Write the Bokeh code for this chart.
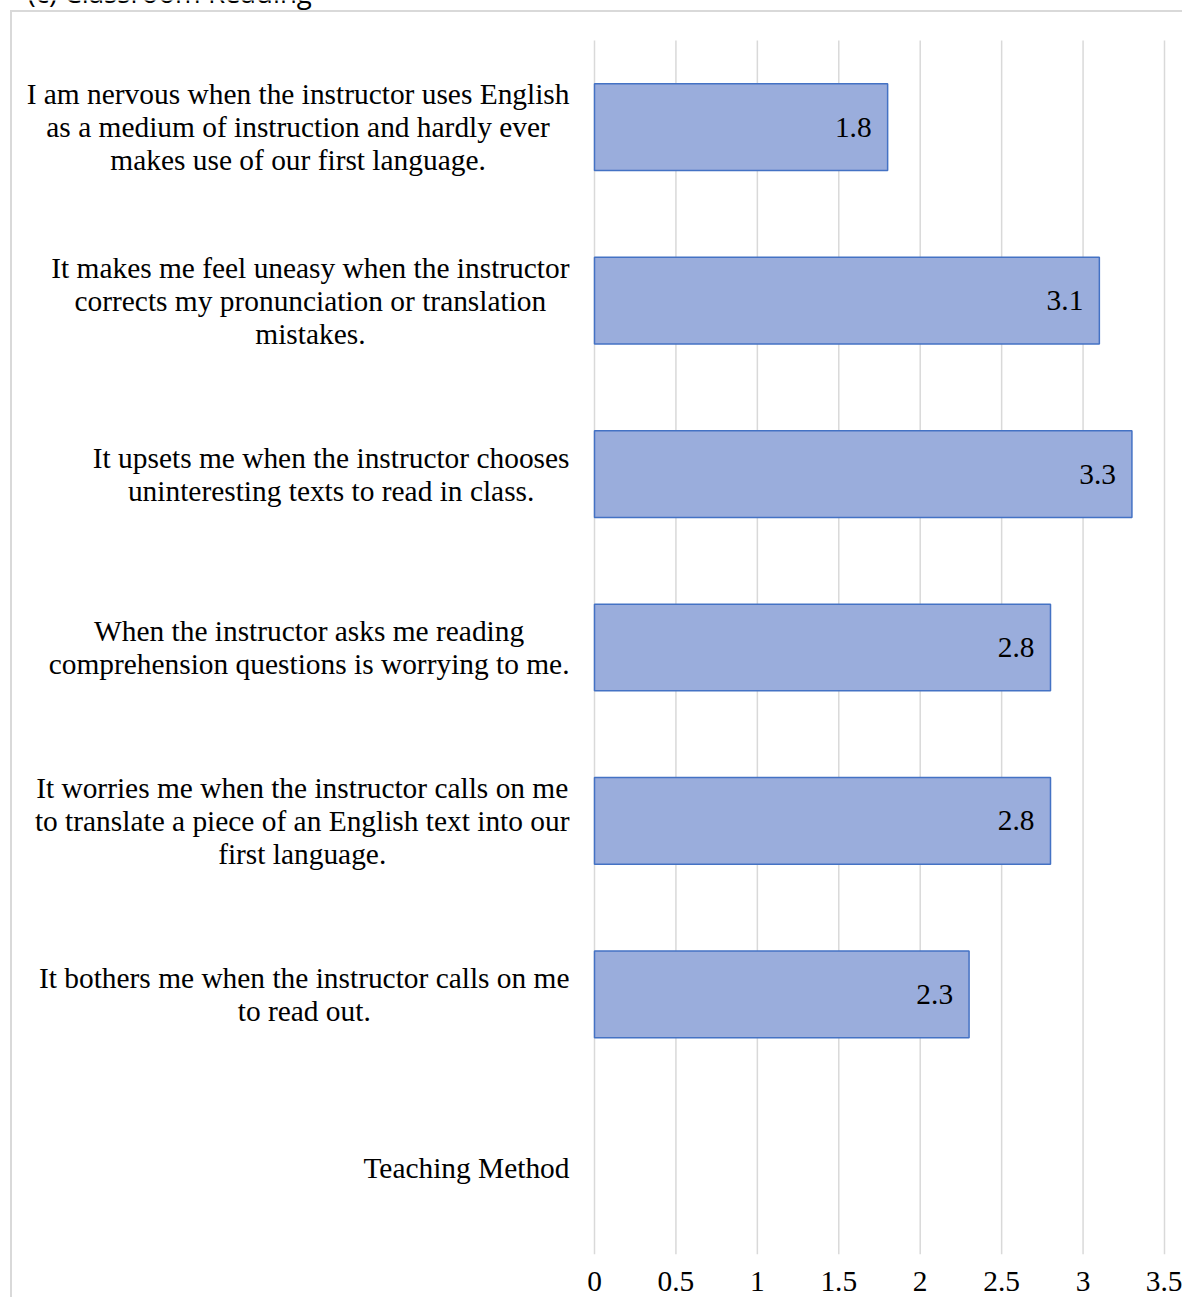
from bokeh.plotting import figure
from bokeh.models import ColumnDataSource, Range1d, FixedTicker
from bokeh.core.properties import value
from bokeh.embed import file_html
from bokeh.resources import INLINE

# ---- data ----
title_text = "(c) Classroom Reading"
categories = [
    "Teaching Method",
    "It bothers me when the instructor calls on me\nto read out.",
    "It worries me when the instructor calls on me\nto translate a piece of an English text into our\nfirst language.",
    "When the instructor asks me reading\ncomprehension questions is worrying to me.",
    "It upsets me when the instructor chooses\nuninteresting texts to read in class.",
    "It makes me feel uneasy when the instructor\ncorrects my pronunciation or translation\nmistakes.",
    "I am nervous when the instructor uses English\nas a medium of instruction and hardly ever\nmakes use of our first language.",
]
values = [None, 2.3, 2.8, 2.8, 3.3, 3.1, 1.8]
tick_values = [0, 0.5, 1, 1.5, 2, 2.5, 3, 3.5]
tick_labels = ["0", "0.5", "1", "1.5", "2", "2.5", "3", "3.5"]

# ---- layout (pixel geometry of the canvas) ----
W, H = 1182, 1297
PXU = 570 / 3.5          # pixels per value unit
X0 = 594                 # pixel column of value 0
BAND = 1214 / 7          # pixels per category band
FRAME_BOTTOM = 1254


def px_x(px):
    return (px - X0) / PXU


def px_y(py):
    return (FRAME_BOTTOM - py) / BAND


FONT = "Liberation Serif"
FS = "29.4px"

ypos = [i + 0.5 for i in range(len(categories))]
bar_y = [y for y, v in zip(ypos, values) if v is not None]
bar_vals = [v for v in values if v is not None]
bar_src = ColumnDataSource(dict(y=bar_y, right=bar_vals,
                                lbl=[f"{v:.1f}" for v in bar_vals]))
lab_src = ColumnDataSource(dict(y=ypos, x=[0] * len(categories), text=categories))
grid_src = ColumnDataSource(dict(x=tick_values, y0=[0] * len(tick_values),
                                 y1=[len(categories)] * len(tick_values)))

p = figure(
    width=W, height=H,
    x_range=Range1d(px_x(0), px_x(W)),
    y_range=Range1d(px_y(FRAME_BOTTOM), px_y(0)),
    output_backend="svg", toolbar_location=None,
    min_border_left=0, min_border_right=0, min_border_top=0,
    min_border_bottom=H - FRAME_BOTTOM,
)
p.border_fill_color = None
p.background_fill_color = None
p.outline_line_color = None
p.styles = {
    "background": (
        "linear-gradient(#d9d9d9,#d9d9d9) 10px 10px / 2px calc(100% - 10px) no-repeat, "
        "linear-gradient(#d9d9d9,#d9d9d9) 10px 10px / calc(100% - 10px) 2px no-repeat"
    )
}
p.yaxis.visible = False
p.xgrid.visible = False
p.ygrid.visible = False

ax = p.xaxis[0]
ax.ticker = FixedTicker(ticks=tick_values)
ax.major_label_overrides = {t: l for t, l in zip(tick_values, tick_labels)}
ax.axis_line_color = None
ax.major_tick_line_color = None
ax.minor_tick_line_color = None
ax.major_tick_out = 0
ax.major_tick_in = 0
ax.major_label_text_font = FONT
ax.major_label_text_font_size = FS
ax.major_label_text_color = "black"
ax.major_label_standoff = 17

# vertical gridlines
p.segment(x0="x", x1="x", y0="y0", y1="y1", source=grid_src,
          line_color="#d9d9d9", line_width=1.5)

# bars
p.hbar(y="y", left=0, right="right", height=0.5, source=bar_src,
       fill_color="#9aaddc", line_color="#4472c4", line_width=1.5)

# value labels
p.text(x="right", y="y", text="lbl", source=bar_src, x_offset=-16,
       text_align="right", text_baseline="middle",
       text_font=value(FONT), text_font_size=FS, text_color="black")

# category labels
p.text(x="x", y="y", text="text", source=lab_src, x_offset=-25,
       text_align="center", text_baseline="middle", anchor="center_right",
       text_font=value(FONT), text_font_size=FS, text_color="black",
       text_line_height=1.03)

# cut-off title at the top edge
p.text(x=[px_x(27)], y=[px_y(3)], text=[title_text], y_offset=-12,
       text_align="left", text_baseline="alphabetic",
       text_font=value("Open Sans"), text_font_size="27.7px", text_color="black")

open("out.html", "w").write(file_html(p, INLINE))
